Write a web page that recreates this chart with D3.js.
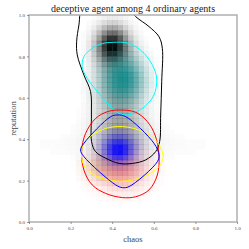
<!DOCTYPE html>
<html><head><meta charset="utf-8">
<script src="https://cdn.jsdelivr.net/npm/d3@7"></script>
<style>html,body{margin:0;padding:0;background:#fff;}svg{display:block;}</style>
</head><body>
<svg id="chart" width="249" height="249"></svg>
<script>
// ---- data ----
const title = "deceptive agent among 4 ordinary agents";
const xLabel = "chaos";
const yLabel = "reputation";
const ticks = [0, 0.2, 0.4, 0.6, 0.8, 1.0];
const gridN = 40;
// density blobs: [cx, cy, sx, sy, peak]
const greyBlobs = [[0.40,0.85,0.05,0.06,0.95],[0.43,0.63,0.07,0.13,0.35],[0.44,0.40,0.085,0.08,0.3],[0.45,0.37,0.35,0.05,0.02]];
const tealBlobs = [[0.45,0.69,0.065,0.075,0.85]];
const redBlobs = [[0.44,0.25,0.08,0.06,0.55]];
const orangeBlobs = [[0.34,0.27,0.05,0.04,0.3]];
const blueBlobs = [[0.43,0.35,0.05,0.045,0.95]];
const layerColors = ["#000000","#008888","#e8453c","#c8823c","#0000ff"];
// contour lines
const blackContour = [[0.26,1.06],[0.240,0.952],[0.229,0.871],[0.232,0.807],[0.264,0.71],[0.296,0.63],[0.30,0.517],[0.301,0.388],[0.32,0.34],[0.369,0.308],[0.433,0.283],[0.497,0.283],[0.561,0.30],[0.609,0.34],[0.628,0.388],[0.633,0.517],[0.638,0.678],[0.641,0.839],[0.625,0.895],[0.577,0.944],[0.513,0.992],[0.45,1.06],[0.35,1.10]];
const cyanContour = [[0.401,0.868],[0.481,0.863],[0.553,0.815],[0.601,0.742],[0.614,0.686],[0.601,0.614],[0.561,0.562],[0.513,0.530],[0.473,0.517],[0.433,0.525],[0.385,0.565],[0.329,0.630],[0.280,0.694],[0.256,0.750],[0.264,0.799],[0.304,0.839],[0.353,0.862]];
const redContour = [[0.433,0.541],[0.513,0.530],[0.569,0.485],[0.606,0.420],[0.625,0.324],[0.617,0.227],[0.577,0.155],[0.513,0.122],[0.449,0.118],[0.369,0.138],[0.304,0.179],[0.264,0.251],[0.253,0.340],[0.272,0.428],[0.321,0.501],[0.377,0.533]];
const yellowContour = [[0.449,0.461],[0.529,0.444],[0.601,0.404],[0.641,0.340],[0.644,0.308],[0.625,0.267],[0.569,0.227],[0.481,0.200],[0.401,0.200],[0.329,0.219],[0.272,0.259],[0.252,0.324],[0.264,0.380],[0.304,0.420],[0.369,0.452]];
const blueContour = [[0.425,0.517],[0.465,0.509],[0.601,0.380],[0.625,0.324],[0.617,0.291],[0.481,0.171],[0.449,0.166],[0.417,0.179],[0.264,0.316],[0.248,0.348],[0.264,0.380],[0.393,0.509]];
const contourColors = ["#000000","#00ffff","#ff0000","#ffff00","#0000ff"];

// ---- drawing ----
const svg = d3.select("#chart");
const x = d3.scaleLinear().domain([0,1]).range([29,237]);
const y = d3.scaleLinear().domain([0,1]).range([222,15]);
svg.append("defs").append("clipPath").attr("id","clip").append("rect")
  .attr("x",x(0)).attr("y",y(1)).attr("width",x(1)-x(0)).attr("height",y(0)-y(1));
const plot = svg.append("g").attr("clip-path","url(#clip)");

function dens(blobs, px, py){
  let v = 0;
  for (const [cx,cy,sx,sy,p] of blobs){
    v += p*Math.exp(-0.5*(((px-cx)/sx)**2 + ((py-cy)/sy)**2));
  }
  return Math.min(1,v);
}
const layers = [greyBlobs, tealBlobs, redBlobs, orangeBlobs, blueBlobs];
const cells = d3.range(gridN*gridN).map(k => ({i: k % gridN, j: Math.floor(k/gridN)}));
layers.forEach((blobs, li) => {
  plot.append("g").selectAll("rect").data(cells.filter(c => dens(blobs,(c.i+0.5)/gridN,(c.j+0.5)/gridN) > 0.01))
    .join("rect")
    .attr("x", c => x(c.i/gridN))
    .attr("y", c => y((c.j+1)/gridN))
    .attr("width", x(1/gridN)-x(0)+0.3)
    .attr("height", y(0)-y(1/gridN)+0.3)
    .attr("fill", layerColors[li])
    .attr("fill-opacity", c => dens(blobs,(c.i+0.5)/gridN,(c.j+0.5)/gridN));
});

const line = d3.line().x(d=>x(d[0])).y(d=>y(d[1])).curve(d3.curveCatmullRomClosed.alpha(0.5));
[blackContour, cyanContour, redContour, yellowContour, blueContour].forEach((c,i)=>{
  plot.append("path").attr("d", line(c)).attr("fill","none")
    .attr("stroke", contourColors[i]).attr("stroke-width", 1);
});

// frame
svg.append("rect").attr("x",x(0)).attr("y",y(1)).attr("width",x(1)-x(0)).attr("height",y(0)-y(1))
  .attr("fill","none").attr("stroke","#b0b0b0").attr("stroke-width",1.5);

const font = "'Liberation Serif','DejaVu Serif',serif";
const xAxis = svg.append("g").attr("transform",`translate(0,${y(0)})`)
  .call(d3.axisBottom(x).tickValues(ticks).tickFormat(d3.format(".1f")).tickSize(2).tickPadding(2));
const yAxis = svg.append("g").attr("transform",`translate(${x(0)},0)`)
  .call(d3.axisLeft(y).tickValues(ticks).tickFormat(d3.format(".1f")).tickSize(2).tickPadding(2));
[xAxis,yAxis].forEach(a=>{
  a.select(".domain").remove();
  a.selectAll("line").attr("stroke","#555").attr("stroke-width",0.6);
  a.selectAll("text").attr("font-family",font).attr("font-size",5).attr("fill","#444");
});

svg.append("text").attr("x",(x(0)+x(1))/2).attr("y",12).attr("text-anchor","middle")
  .attr("font-family",font).attr("font-size",10).attr("fill","#222").text(title);
svg.append("text").attr("x",(x(0)+x(1))/2).attr("y",242).attr("text-anchor","middle")
  .attr("font-family",font).attr("font-size",8.5).attr("fill","#444").text(xLabel);
svg.append("text").attr("transform",`translate(16,${(y(0)+y(1))/2}) rotate(-90)`).attr("text-anchor","middle")
  .attr("font-family",font).attr("font-size",8.5).attr("fill","#444").text(yLabel);
</script>
</body></html>
